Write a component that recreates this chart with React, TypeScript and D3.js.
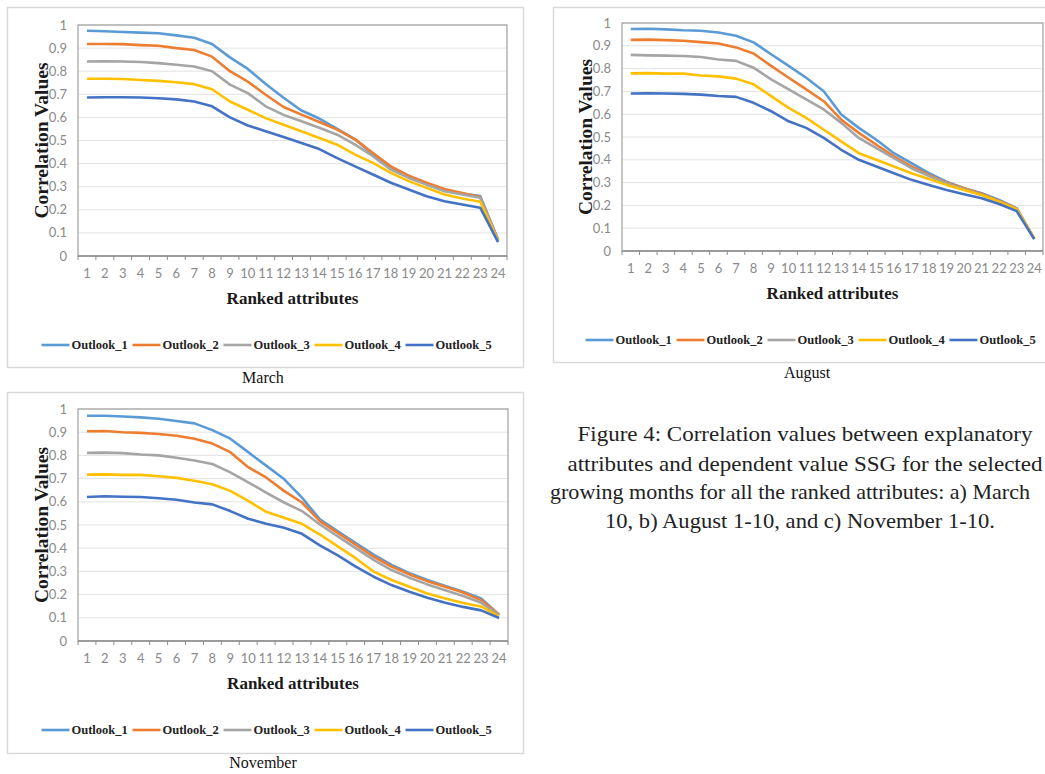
import React from "react";
import * as d3 from "d3";

// ranked attributes on the x axis
const ranks = ["1", "2", "3", "4", "5", "6", "7", "8", "9", "10", "11", "12", "13", "14", "15", "16", "17", "18", "19", "20", "21", "22", "23", "24"];
const seriesNames = ["Outlook_1", "Outlook_2", "Outlook_3", "Outlook_4", "Outlook_5"];
const seriesColors = ["#5B9BD5", "#ED7D31", "#A5A5A5", "#FFC000", "#4472C4"];
const yTicks = [0, 0.1, 0.2, 0.3, 0.4, 0.5, 0.6, 0.7, 0.8, 0.9, 1];

// March
const marchOutlook1 = [0.975, 0.973, 0.970, 0.967, 0.964, 0.955, 0.945, 0.918, 0.860, 0.810, 0.745, 0.685, 0.630, 0.595, 0.550, 0.505, 0.440, 0.385, 0.345, 0.310, 0.285, 0.270, 0.260, 0.070];
const marchOutlook2 = [0.918, 0.918, 0.917, 0.913, 0.910, 0.900, 0.892, 0.863, 0.800, 0.755, 0.698, 0.645, 0.612, 0.580, 0.547, 0.505, 0.446, 0.388, 0.348, 0.317, 0.290, 0.273, 0.255, 0.070];
const marchOutlook3 = [0.842, 0.843, 0.842, 0.840, 0.835, 0.828, 0.820, 0.800, 0.742, 0.705, 0.648, 0.611, 0.583, 0.555, 0.525, 0.482, 0.432, 0.374, 0.338, 0.309, 0.280, 0.266, 0.252, 0.070];
const marchOutlook4 = [0.767, 0.767, 0.766, 0.762, 0.758, 0.752, 0.744, 0.722, 0.669, 0.633, 0.597, 0.568, 0.540, 0.511, 0.482, 0.439, 0.403, 0.360, 0.324, 0.295, 0.266, 0.249, 0.235, 0.065];
const marchOutlook5 = [0.686, 0.687, 0.687, 0.686, 0.683, 0.678, 0.669, 0.648, 0.600, 0.565, 0.540, 0.515, 0.489, 0.463, 0.424, 0.388, 0.353, 0.317, 0.288, 0.259, 0.237, 0.223, 0.209, 0.060];

// August
const augustOutlook1 = [0.974, 0.975, 0.972, 0.968, 0.966, 0.958, 0.944, 0.915, 0.863, 0.812, 0.760, 0.701, 0.599, 0.540, 0.488, 0.429, 0.385, 0.341, 0.304, 0.275, 0.253, 0.224, 0.187, 0.054];
const augustOutlook2 = [0.926, 0.927, 0.925, 0.922, 0.916, 0.910, 0.893, 0.866, 0.812, 0.760, 0.709, 0.657, 0.576, 0.518, 0.466, 0.415, 0.371, 0.334, 0.300, 0.275, 0.250, 0.219, 0.187, 0.054];
const augustOutlook3 = [0.860, 0.858, 0.857, 0.855, 0.851, 0.840, 0.834, 0.804, 0.753, 0.709, 0.665, 0.621, 0.562, 0.496, 0.451, 0.407, 0.363, 0.329, 0.297, 0.271, 0.246, 0.216, 0.184, 0.055];
const augustOutlook4 = [0.779, 0.780, 0.778, 0.778, 0.770, 0.766, 0.756, 0.731, 0.679, 0.628, 0.584, 0.532, 0.481, 0.429, 0.400, 0.371, 0.341, 0.316, 0.290, 0.268, 0.246, 0.216, 0.182, 0.055];
const augustOutlook5 = [0.691, 0.692, 0.691, 0.689, 0.686, 0.680, 0.676, 0.650, 0.613, 0.569, 0.540, 0.496, 0.444, 0.400, 0.371, 0.341, 0.312, 0.290, 0.268, 0.249, 0.231, 0.206, 0.175, 0.052];

// November
const novemberOutlook1 = [0.971, 0.971, 0.968, 0.964, 0.958, 0.948, 0.938, 0.909, 0.872, 0.814, 0.756, 0.698, 0.618, 0.524, 0.473, 0.422, 0.372, 0.328, 0.292, 0.263, 0.237, 0.212, 0.183, 0.113];
const novemberOutlook2 = [0.904, 0.905, 0.900, 0.897, 0.892, 0.885, 0.872, 0.851, 0.814, 0.749, 0.705, 0.647, 0.597, 0.517, 0.466, 0.415, 0.364, 0.321, 0.287, 0.258, 0.234, 0.209, 0.176, 0.113];
const novemberOutlook3 = [0.811, 0.812, 0.810, 0.804, 0.800, 0.790, 0.778, 0.763, 0.727, 0.684, 0.640, 0.597, 0.560, 0.502, 0.451, 0.400, 0.350, 0.306, 0.273, 0.244, 0.219, 0.194, 0.165, 0.110];
const novemberOutlook4 = [0.717, 0.718, 0.716, 0.716, 0.710, 0.703, 0.691, 0.676, 0.647, 0.604, 0.557, 0.531, 0.505, 0.459, 0.408, 0.357, 0.299, 0.263, 0.234, 0.205, 0.183, 0.164, 0.149, 0.105];
const novemberOutlook5 = [0.621, 0.624, 0.622, 0.621, 0.615, 0.609, 0.597, 0.589, 0.560, 0.527, 0.505, 0.488, 0.462, 0.412, 0.369, 0.321, 0.277, 0.241, 0.212, 0.186, 0.165, 0.147, 0.132, 0.099];

const captionLines = [
  "Figure 4: Correlation values between explanatory",
  "attributes and dependent value SSG for the selected",
  "growing months for all the ranked attributes: a) March",
  "10, b) August 1-10, and c) November 1-10.",
];

const serif = "Liberation Serif, Times New Roman, serif";
const sans = "Lato, Liberation Sans, sans-serif";

type Box = { left: number; top: number; right: number; bottom: number };

function Panel(props: {
  box: Box;
  plot: Box;
  series: number[][];
  month: string;
  centerX: number;
}) {
  const { box, plot, series, month, centerX } = props;
  const x = d3.scaleBand<string>().domain(ranks).range([plot.left, plot.right]).padding(0);
  const y = d3.scaleLinear().domain([0, 1]).range([plot.bottom, plot.top]);
  const line = d3
    .line<number>()
    .x((_, i) => (x(ranks[i]) as number) + x.bandwidth() / 2)
    .y((d) => y(d));

  const legendStep = 91;
  const legendStart = centerX - (legendStep * seriesNames.length) / 2 + 4;
  const legendY = plot.bottom + 89;

  return (
    <g>
      <rect
        x={box.left + 0.5}
        y={box.top + 0.5}
        width={box.right - box.left}
        height={box.bottom - box.top}
        fill="#fff"
        stroke="#d9d9d9"
        strokeWidth={1.5}
      />
      {/* gridlines */}
      {yTicks.slice(1).map((t) => (
        <line key={t} x1={plot.left} x2={plot.right} y1={y(t)} y2={y(t)} stroke="#e3e3e3" strokeWidth={1} />
      ))}
      <rect
        x={plot.left}
        y={plot.top}
        width={plot.right - plot.left}
        height={plot.bottom - plot.top}
        fill="none"
        stroke="#a0a0a0"
        strokeWidth={1.2}
      />
      <line x1={plot.left} x2={plot.right} y1={plot.bottom} y2={plot.bottom} stroke="#8c8c8c" strokeWidth={1.3} />
      {/* category ticks at band edges */}
      {ranks.concat(["end"]).map((r, i) => {
        const xx = i < ranks.length ? (x(r) as number) : plot.right;
        return <line key={"t" + i} x1={xx} x2={xx} y1={plot.bottom} y2={plot.bottom + 4} stroke="#8c8c8c" strokeWidth={1} />;
      })}
      {/* y labels */}
      {yTicks.map((t) => (
        <text
          key={"y" + t}
          x={plot.left - 11}
          y={y(t)}
          dy="0.35em"
          textAnchor="end"
          fontFamily={sans}
          fontSize={13}
          fill="#8a8a8a"
        >
          {t === 0 || t === 1 ? String(t) : t.toFixed(1)}
        </text>
      ))}
      {/* x labels */}
      {ranks.map((r) => (
        <text
          key={"x" + r}
          x={(x(r) as number) + x.bandwidth() / 2}
          y={plot.bottom + 22}
          textAnchor="middle"
          fontFamily={sans}
          fontSize={13}
          fill="#8a8a8a"
        >
          {r}
        </text>
      ))}
      {/* axis titles */}
      <text
        transform={`translate(${plot.left - 37},${(plot.top + plot.bottom) / 2}) rotate(-90)`}
        textAnchor="middle"
        dy="0.35em"
        fontFamily={serif}
        fontWeight="bold"
        fontSize={19}
        textLength={156}
        lengthAdjust="spacingAndGlyphs"
        fill="#1a1a1a"
      >
        Correlation Values
      </text>
      <text
        x={(plot.left + plot.right) / 2}
        y={plot.bottom + 48}
        textAnchor="middle"
        fontFamily={serif}
        fontWeight="bold"
        fontSize={17}
        fill="#1a1a1a"
      >
        Ranked attributes
      </text>
      {/* series */}
      {series.map((s, i) => (
        <path key={"s" + i} d={line(s) as string} fill="none" stroke={seriesColors[i]} strokeWidth={2.6} strokeLinejoin="round" />
      ))}
      {/* legend */}
      {seriesNames.map((n, i) => {
        const lx = legendStart + i * legendStep;
        return (
          <g key={n}>
            <line x1={lx} x2={lx + 28} y1={legendY} y2={legendY} stroke={seriesColors[i]} strokeWidth={2.6} />
            <text x={lx + 30} y={legendY} dy="0.35em" fontFamily={serif} fontWeight="bold" fontSize={12.5} fill="#222">
              {n}
            </text>
          </g>
        );
      })}
      <text x={centerX - 2} y={plot.bottom + 127} textAnchor="middle" fontFamily={serif} fontSize={16} fill="#111">
        {month}
      </text>
    </g>
  );
}

export default function App() {
  const captionY = [441, 471, 499, 528];
  const captionW = [455, 475, 480, 390];
  const captionC = [805, 805, 790, 800];
  return (
    <div style={{ position: "absolute", left: 0, top: 0 }}>
      <svg width={1045} height={774} style={{ display: "block", background: "#fff" }}>
        <Panel
          box={{ left: 7, top: 7, right: 523, bottom: 367 }}
          plot={{ left: 78, top: 25, right: 507, bottom: 256 }}
          series={[marchOutlook1, marchOutlook2, marchOutlook3, marchOutlook4, marchOutlook5]}
          month="March"
          centerX={265}
        />
        <Panel
          box={{ left: 553, top: 7, right: 1050, bottom: 362 }}
          plot={{ left: 622, top: 23, right: 1043, bottom: 251 }}
          series={[augustOutlook1, augustOutlook2, augustOutlook3, augustOutlook4, augustOutlook5]}
          month="August"
          centerX={809}
        />
        <Panel
          box={{ left: 7, top: 392, right: 523, bottom: 753 }}
          plot={{ left: 78, top: 409, right: 508, bottom: 641 }}
          series={[novemberOutlook1, novemberOutlook2, novemberOutlook3, novemberOutlook4, novemberOutlook5]}
          month="November"
          centerX={265}
        />
        {captionLines.map((l, i) => (
          <text
            key={i}
            x={captionC[i]}
            y={captionY[i]}
            textAnchor="middle"
            textLength={captionW[i]}
            lengthAdjust="spacingAndGlyphs"
            fontFamily={serif}
            fontSize={21}
            fill="#222"
          >
            {l}
          </text>
        ))}
      </svg>
    </div>
  );
}
